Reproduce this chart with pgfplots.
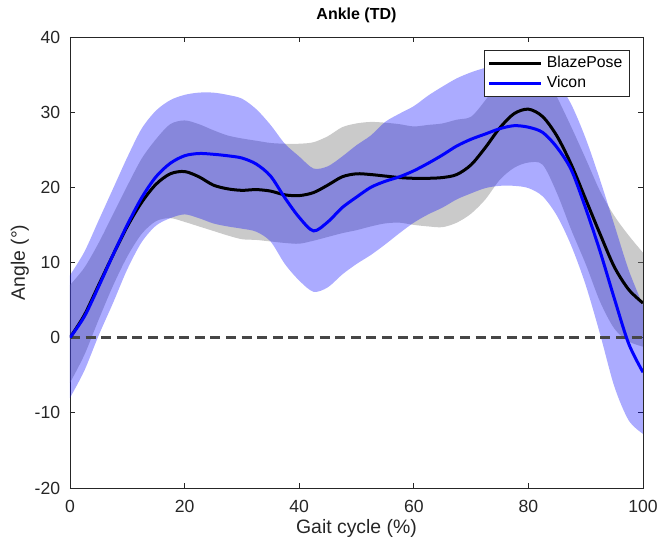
\documentclass[border=0pt]{standalone}
\usepackage{fontspec}
\setmainfont{Liberation Sans}
\usepackage{pgfplots}
\usepackage{pgfplotstable}
\pgfplotsset{compat=1.18}
\usepgfplotslibrary{fillbetween}

\definecolor{axgray}{RGB}{38,38,38}
\definecolor{zerogray}{RGB}{70,70,70}

% ankle angle: mean, mean+SD, mean-SD over the gait cycle
\pgfplotstableread{
x     m     u     l
0     0.0   7.0  -6.0
2.5   3.0   9.3  -2.3
5     7.0  12.6   2.4
7.5  11.0  16.4   6.9
10   14.8  20.2  10.8
12.5 18.0  23.8  13.8
15   20.4  26.4  15.5
17.5 21.8  28.4  15.9
20   22.1  28.9  15.4
22.5 21.4  28.4  14.8
25   20.3  27.6  14.2
27.5 19.8  26.9  13.6
30   19.6  26.5  13.1
32.5 19.7  26.2  13.0
35   19.5  25.9  12.8
37.5 19.0  25.8  12.6
40   18.9  25.8  12.5
42.5 19.3  26.0  12.9
45   20.3  26.8  13.4
47.5 21.4  28.0  13.9
50   21.8  28.5  14.3
52.5 21.7  28.7  14.8
55   21.5  28.6  15.2
57.5 21.3  28.4  15.3
60   21.2  28.1  15.0
62.5 21.2  28.3  14.8
65   21.3  28.5  14.7
67.5 21.7  29.0  15.3
70   23.0  29.4  16.5
72.5 25.3  31.6  18.4
75   27.9  34.3  21.0
77.5 29.8  36.3  22.6
80   30.4  37.0  23.3
82.5 29.4  35.8  23.0
85   26.8  32.0  19.2
87.5 23.0  28.0  14.3
90   18.4  23.8   9.8
92.5 13.8  19.5   4.8
95    9.4  16.2   1.2
97.5  6.4  13.6  -0.5
100   4.6  11.3  -1.2
}\blaze

\pgfplotstableread{
x     m     u     l
0     0.0   8.3  -8.0
2.5   2.8  11.4  -4.4
5     6.8  15.6   0.3
7.5  11.0  19.8   4.6
10   15.0  24.0   9.1
12.5 18.6  27.8  12.7
15   21.4  30.2  14.9
17.5 23.2  31.6  15.9
20   24.2  32.3  16.4
22.5 24.5  32.6  15.9
25   24.4  32.6  15.2
27.5 24.2  32.3  14.8
30   23.9  31.8  14.5
32.5 23.1  30.4  14.1
35   21.5  28.3  12.8
37.5 18.6  25.8   9.8
40   16.0  24.1   7.6
42.5 14.2  22.5   6.1
45   15.4  22.8   6.7
47.5 17.3  24.1   8.4
50   18.7  25.6   9.8
52.5 20.0  26.9  11.0
55   20.8  28.7  12.4
57.5 21.4  29.8  13.9
60   22.2  30.8  15.3
62.5 23.2  32.2  16.4
65   24.3  33.4  17.3
67.5 25.5  34.5  18.4
70   26.4  35.3  19.2
72.5 27.1  35.9  19.9
75   27.8  36.3  20.2
77.5 28.2  36.3  20.2
80   28.0  35.8  19.9
82.5 27.3  35.0  18.8
85   25.3  34.0  16.2
87.5 22.3  31.0  12.2
90   17.2  26.5   7.0
92.5 11.5  21.0   0.5
95    5.2  15.0  -6.5
97.5 -0.8   9.0 -11.0
100  -4.6   4.3 -12.8
}\vicon

\begin{document}
\begin{tikzpicture}
\begin{axis}[
  name=ax,
  scale only axis,
  width=286.5pt, height=225.5pt,
  xmin=0, xmax=100, ymin=-20, ymax=40,
  xtick={0,20,...,100},
  ytick={-20,-10,...,40},
  tick align=inside,
  major tick length=2.6pt,
  axis line style={axgray, line width=0.45pt},
  tick style={axgray, line width=0.45pt},
  /pgf/number format/assume math mode=true,
  ticklabel style={font=\fontsize{8.8}{10}\selectfont, text=axgray},
  xticklabel style={yshift=-2.6pt},
  yticklabel style={xshift=-1.4pt},
  xlabel={Gait cycle (\%)},
  ylabel={Angle (°)},
  xlabel style={at={(axis description cs:0.5,-0.0887)}, anchor=center,
                font=\fontsize{9.7}{11}\selectfont, text=axgray},
  ylabel style={at={(axis description cs:-0.0873,0.5)}, anchor=center,
                font=\fontsize{9.7}{11}\selectfont, text=axgray},
  title={Ankle (TD)},
  title style={at={(axis description cs:0.5,1.042)}, anchor=center, yshift=-4.5pt,
               font=\bfseries\fontsize{8.0}{10}\selectfont},
  legend style={at={(axis description cs:0.977,0.971)}, anchor=north east,
                draw=axgray, line width=0.45pt, fill=white,
                font=\fontsize{7.9}{9}\selectfont,
                inner xsep=1.5pt, inner ysep=1pt, row sep=-1.5pt},
  legend cell align=left,
  legend image code/.code={\draw[#1] (0pt,0pt) -- (26pt,0pt);},
]

% BlazePose band
\addplot[name path=bu, draw=none, smooth, forget plot] table[x=x, y=u] {\blaze};
\addplot[name path=bl, draw=none, smooth, forget plot] table[x=x, y=l] {\blaze};
\addplot[fill=gray, fill opacity=0.42, draw=none, forget plot] fill between[of=bu and bl];

% Vicon band
\addplot[name path=vu, draw=none, smooth, forget plot] table[x=x, y=u] {\vicon};
\addplot[name path=vl, draw=none, smooth, forget plot] table[x=x, y=l] {\vicon};
\addplot[fill=blue, fill opacity=0.33, draw=none, forget plot] fill between[of=vu and vl];

% zero reference
\addplot[zerogray, line width=1.2pt, dash pattern=on 5pt off 2.8pt, forget plot]
  coordinates {(0,0) (100,0)};

% means
\addplot[black, line width=1.5pt, smooth] table[x=x, y=m] {\blaze};
\addlegendentry{BlazePose}
\addplot[blue, line width=1.5pt, smooth] table[x=x, y=m] {\vicon};
\addlegendentry{Vicon}
\end{axis}
\pgfresetboundingbox
\path ([shift={(-35pt,-28pt)}]ax.south west) rectangle ([shift={(8.5pt,18.5pt)}]ax.north east);
\end{tikzpicture}
\end{document}
